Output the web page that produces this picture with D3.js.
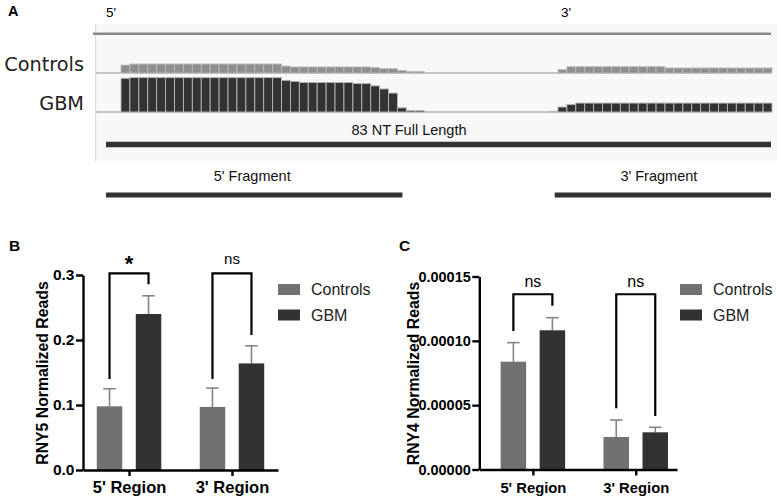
<!DOCTYPE html>
<html><head><meta charset="utf-8">
<script src="https://cdn.jsdelivr.net/npm/d3@7"></script>
<style>
html,body{margin:0;padding:0;background:#fff;}
svg{display:block;}
.ax text{font-family:"Liberation Sans",Arial,sans-serif;font-weight:bold;fill:#000;}
.ax path,.ax line{stroke:#000;stroke-width:2.4;}
</style></head>
<body><svg id="c" width="777" height="498"></svg>
<script>
// ---------- Panel A data: coverage per position (relative read depth) ----------
const controlsCoverage = [23,26,26,26,26,26,26,26,26,26,26,26,26,26,26,26,26,26,20,17.5,17.5,17.5,17.5,17.5,17.5,17.5,17.5,17.5,15.5,12.5,12.5,7,3.8,3.8,0,0,0,0,0,0,0,0,0,0,0,0,0,0,0,9.6,18.3,18.3,18.3,18.3,18.3,18.3,18.3,18.3,18.3,18.3,18.3,14.5,14.5,14.5,14.5,14.5,14.5,14.5,14.5,14.5,14.5,14.5,14.5];
const gbmCoverage = [98,100,100,100,100,100,100,100,100,100,100,100,100,100,100,100,100,100,92,89,86,86,86,86,86,86,83,83,76,67,55,12,4,4,0,0,0,0,0,0,0,0,0,0,0,0,0,0,2,14.5,21.5,26,26,26,26,26,26,26,26,26,26,26,26,26,26,26,26,26,26,26,26,26,26];
const trackNames = ["Controls","GBM"];
const fullLength = [0, 83];
const fragment5 = [0, 37];
const fragment3 = [56, 83];
const fragmentLabels = ["83 NT Full Length","5' Fragment","3' Fragment"];

// ---------- Panel B / C data ----------
const regions = ["5' Region","3' Region"];
const series = ["Controls","GBM"];
const rny5Controls = [0.098, 0.097];
const rny5GBM = [0.240, 0.164];
const rny5ControlsErr = [0.027, 0.029];
const rny5GBMErr = [0.028, 0.027];
const rny5Ticks = [0, 0.1, 0.2, 0.3];
const rny5BracketLeft = [0.14, 0.14];
const rny5BracketTop = [0.3026, 0.3026];
const rny5BracketRight = [0.2857, 0.2077];
const rny5Sig = ["*","ns"];

const rny4Controls = [0.0000838, 0.0000253];
const rny4GBM = [0.0001082, 0.0000289];
const rny4ControlsErr = [0.0000148, 0.0000132];
const rny4GBMErr = [0.0000098, 0.0000039];
const rny4Ticks = [0, 0.00005, 0.0001, 0.00015];
const rny4BracketLeft = [0.0001076, 0.0000476];
const rny4BracketTop = [0.0001362, 0.0001362];
const rny4BracketRight = [0.0001273, 0.0000416];
const rny4Sig = ["ns","ns"];

const colors = {Controls:"#717171", GBM:"#323232"};
const trackColors = {Controls:"#8e8e8e", GBM:"#333333"};

const svg = d3.select("#c");
svg.append("rect").attr("width",777).attr("height",498).attr("fill","#fff");

// ================= Panel A =================
const A = svg.append("g");
A.append("rect").attr("x",95).attr("y",24).attr("width",682).attr("height",137).attr("fill","#f8f8f8");
A.append("line").attr("x1",95.5).attr("x2",95.5).attr("y1",24).attr("y2",161).attr("stroke","#dcdcdc").attr("stroke-width",1.2);
A.append("line").attr("x1",93).attr("x2",771).attr("y1",33.7).attr("y2",33.7).attr("stroke","#8a8a8a").attr("stroke-width",2.6);

const xCov = d3.scaleBand().domain(d3.range(controlsCoverage.length)).range([121,772]).padding(0);
const trackBase = {Controls:73, GBM:112};
const covData = {Controls:controlsCoverage, GBM:gbmCoverage};
trackNames.forEach(name=>{
  const y = d3.scaleLinear().domain([0,100]).range([trackBase[name], trackBase[name]-34.4]);
  A.append("line").attr("x1",96).attr("x2",771).attr("y1",trackBase[name]).attr("y2",trackBase[name])
    .attr("stroke","#b5b5b5").attr("stroke-width",1.5);
  A.append("g").selectAll("rect").data(covData[name].map((v,i)=>({v,i})).filter(d=>d.v>0)).join("rect")
    .attr("x",d=>xCov(d.i)).attr("width",xCov.bandwidth())
    .attr("y",d=>y(d.v)).attr("height",d=>y(0)-y(d.v))
    .attr("fill",trackColors[name]).attr("stroke","#b8b8b8").attr("stroke-width",0.9);
  A.append("text").attr("x",84).attr("y",trackBase[name]-2.3)
    .attr("text-anchor","end").attr("font-family","DejaVu Sans, Verdana, sans-serif")
    .attr("font-size",19.3).attr("fill","#222").text(name);
});

A.append("text").attr("x",8).attr("y",16).attr("font-family","Liberation Sans, Arial").attr("font-weight","bold").attr("font-size",14.5).text("A");
A.append("text").attr("x",106).attr("y",16.5).attr("font-family","Liberation Sans, Arial").attr("font-size",13.5).text("5'");
A.append("text").attr("x",561).attr("y",16.5).attr("font-family","Liberation Sans, Arial").attr("font-size",13.5).text("3'");

const xNt = d3.scaleLinear().domain([0,83]).range([106,771]);
const segs = [
  {r:fullLength, y:144.5, t:fragmentLabels[0], ty:135, w:5.5, dx:-29.5},
  {r:fragment5, y:195, t:fragmentLabels[1], ty:181, w:5, dx:-2},
  {r:fragment3, y:195, t:fragmentLabels[2], ty:181, w:5, dx:-4}
];
segs.forEach(s=>{
  A.append("line").attr("x1",xNt(s.r[0])).attr("x2",xNt(s.r[1])).attr("y1",s.y).attr("y2",s.y)
    .attr("stroke","#333").attr("stroke-width",s.w);
  A.append("text").attr("x",(xNt(s.r[0])+xNt(s.r[1]))/2 + s.dx).attr("y",s.ty).attr("text-anchor","middle")
    .attr("font-family","Liberation Sans, Arial").attr("font-size",14.5).attr("fill","#111").text(s.t);
});

// ================= Bar panels =================
function barPanel(opt){
  const g = svg.append("g");
  const y = d3.scaleLinear().domain([0, opt.ticks[opt.ticks.length-1]]).range([opt.y0, opt.y1]);
  const x = d3.scalePoint().domain(regions).range([opt.x0, opt.x1]).padding(opt.pad).align(opt.align);
  const sub = d3.scaleBand().domain(series).range([-39,39]).paddingInner(0.346).paddingOuter(0.173);
  const vals = {Controls:opt.ctrl, GBM:opt.gbm};
  const errs = {Controls:opt.ctrlErr, GBM:opt.gbmErr};

  // error bars (behind bars)
  series.forEach(s=>{
    regions.forEach((r,i)=>{
      const cx = x(r)+sub(s)+sub.bandwidth()/2;
      g.append("line").attr("x1",cx).attr("x2",cx).attr("y1",y(vals[s][i])).attr("y2",y(vals[s][i]+errs[s][i]))
        .attr("stroke","#858585").attr("stroke-width",1.6);
      g.append("line").attr("x1",cx-6.3).attr("x2",cx+6.3).attr("y1",y(vals[s][i]+errs[s][i])).attr("y2",y(vals[s][i]+errs[s][i]))
        .attr("stroke","#858585").attr("stroke-width",1.6);
    });
  });
  series.forEach(s=>{
    g.append("g").selectAll("rect").data(regions).join("rect")
      .attr("x",(r)=>x(r)+sub(s)).attr("width",sub.bandwidth())
      .attr("y",(r,i)=>y(vals[s][i])).attr("height",(r,i)=>y(0)-y(vals[s][i]))
      .attr("fill",colors[s]);
  });
  // brackets
  regions.forEach((r,i)=>{
    const xl = x(r)+sub("Controls")+sub.bandwidth()/2;
    const xr = x(r)+sub("GBM")+sub.bandwidth()/2;
    g.append("path").attr("d",d3.line()([[xl,y(opt.bl[i])],[xl,y(opt.bt[i])],[xr,y(opt.bt[i])],[xr,y(opt.br[i])]]))
      .attr("fill","none").attr("stroke","#000").attr("stroke-width",2.2);
    const star = opt.sig[i]==="*";
    g.append("text").attr("x",(xl+xr)/2).attr("y",y(opt.bt[i]) + (star?opt.starDy:opt.nsDy))
      .attr("text-anchor","middle").attr("font-family","Liberation Sans, Arial")
      .attr("font-weight",star?"bold":"normal").attr("font-size",star?22:opt.nsSize).text(opt.sig[i]);
  });
  // axes
  g.append("g").attr("class","ax").attr("transform",`translate(${opt.x0},0)`)
    .call(d3.axisLeft(y).tickValues(opt.ticks).tickFormat(d3.format(opt.fmt)).tickSize(7).tickSizeOuter(0).tickPadding(1.5))
    .call(a=>a.selectAll("text").attr("font-size",opt.tickFont));
  g.append("g").attr("class","ax").attr("transform",`translate(0,${opt.y0})`)
    .call(d3.axisBottom(x).tickSize(6).tickSizeOuter(0).tickPadding(opt.xPad))
    .call(a=>a.selectAll("text").attr("font-size",opt.xFont));
  // title
  g.append("text").attr("transform",`translate(${opt.titleX},${(opt.y0+opt.y1)/2+0.5}) rotate(-90)`)
    .attr("text-anchor","middle").attr("dominant-baseline","central")
    .attr("font-family","Liberation Sans, Arial").attr("font-weight","bold").attr("font-size",15.8).text(opt.title);
  // legend
  series.forEach((s,i)=>{
    g.append("rect").attr("x",opt.legX).attr("y",284+i*25.5).attr("width",22).attr("height",11).attr("fill",colors[s]);
    g.append("text").attr("x",opt.legX+33).attr("y",295+i*25.5).attr("font-family","Liberation Sans, Arial")
      .attr("font-size",16).attr("fill","#222").text(s);
  });
  g.append("text").attr("x",opt.labX).attr("y",251).attr("font-family","Liberation Sans, Arial")
    .attr("font-weight","bold").attr("font-size",15.5).text(opt.label);
}

barPanel({x0:83,x1:278,y0:470,y1:275,pad:0.447,align:0.5,ctrl:rny5Controls,gbm:rny5GBM,
  ctrlErr:rny5ControlsErr,gbmErr:rny5GBMErr,ticks:rny5Ticks,fmt:".1f",
  bl:rny5BracketLeft,bt:rny5BracketTop,br:rny5BracketRight,sig:rny5Sig,
  starDy:-2,nsDy:-9,nsSize:15,tickFont:15.5,xFont:16.5,xPad:5.5,
  title:"RNY5 Normalized Reads",titleX:42.5,legX:278,label:"B",labX:9});

barPanel({x0:479.3,x1:677,y0:469.5,y1:276.5,pad:0.461,align:0.565,ctrl:rny4Controls,gbm:rny4GBM,
  ctrlErr:rny4ControlsErr,gbmErr:rny4GBMErr,ticks:rny4Ticks,fmt:".5f",
  bl:rny4BracketLeft,bt:rny4BracketTop,br:rny4BracketRight,sig:rny4Sig,
  starDy:-2,nsDy:-7.6,nsSize:16,tickFont:14.5,xFont:14.8,xPad:7,
  title:"RNY4 Normalized Reads",titleX:413,legX:680,label:"C",labX:399});
</script></body></html>
